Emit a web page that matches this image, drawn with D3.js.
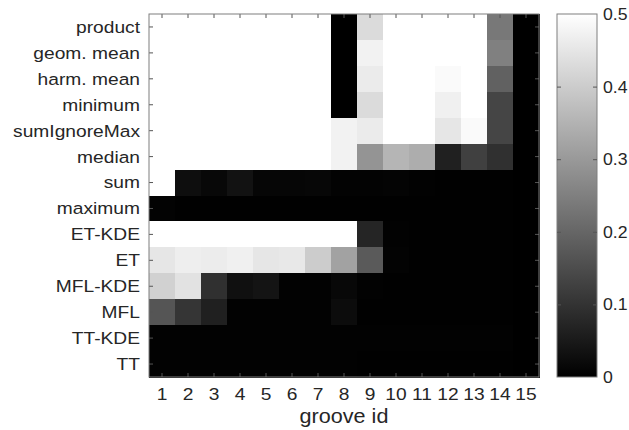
<!DOCTYPE html>
<html lang="en">
<head>
    <meta charset="UTF-8">
    <title>Groove heatmap</title>
    <script src="https://d3js.org/d3.v7.js"></script>
    <style>
        body{
            margin: 0;
            background-color: #fff;
            font-family: 'Liberation Sans', Arial, sans-serif;
        }
    </style>
</head>
<body>
    <div class="chart"></div>

    <script>

        // row labels, top to bottom
        var methods = ["product", "geom. mean", "harm. mean", "minimum", "sumIgnoreMax", "median",
                       "sum", "maximum", "ET-KDE", "ET", "MFL-KDE", "MFL", "TT-KDE", "TT"];

        var grooves = [1, 2, 3, 4, 5, 6, 7, 8, 9, 10, 11, 12, 13, 14, 15];

        // one row per method, one value per groove
        var scores = [
            [0.5, 0.5, 0.5, 0.5, 0.5, 0.5, 0.5, 0, 0.43, 0.5, 0.5, 0.5, 0.5, 0.235, 0],
            [0.5, 0.5, 0.5, 0.5, 0.5, 0.5, 0.5, 0, 0.475, 0.5, 0.5, 0.5, 0.5, 0.25, 0],
            [0.5, 0.5, 0.5, 0.5, 0.5, 0.5, 0.5, 0, 0.46, 0.5, 0.5, 0.49, 0.5, 0.19, 0],
            [0.5, 0.5, 0.5, 0.5, 0.5, 0.5, 0.5, 0, 0.43, 0.5, 0.5, 0.47, 0.5, 0.135, 0],
            [0.5, 0.5, 0.5, 0.5, 0.5, 0.5, 0.5, 0.475, 0.46, 0.5, 0.5, 0.45, 0.49, 0.135, 0],
            [0.5, 0.5, 0.5, 0.5, 0.5, 0.5, 0.5, 0.475, 0.29, 0.355, 0.34, 0.063, 0.125, 0.094, 0],
            [0.5, 0.027, 0.016, 0.035, 0.012, 0.012, 0.014, 0.006, 0.006, 0.008, 0.004, 0.002, 0.002, 0.002, 0],
            [0.006, 0.002, 0.002, 0.002, 0.002, 0.002, 0.002, 0.002, 0.002, 0.002, 0.002, 0.002, 0.002, 0.002, 0],
            [0.5, 0.5, 0.5, 0.5, 0.5, 0.5, 0.5, 0.5, 0.073, 0.004, 0.002, 0.002, 0.002, 0.002, 0],
            [0.45, 0.467, 0.463, 0.47, 0.45, 0.455, 0.4, 0.318, 0.176, 0.006, 0.002, 0.002, 0.002, 0.002, 0],
            [0.41, 0.443, 0.094, 0.031, 0.039, 0.003, 0.003, 0.016, 0.003, 0.002, 0.002, 0.002, 0.002, 0.002, 0],
            [0.167, 0.104, 0.063, 0.003, 0.004, 0.003, 0.003, 0.024, 0.002, 0.002, 0.002, 0.002, 0.002, 0.002, 0],
            [0.004, 0.004, 0.004, 0.004, 0.004, 0.004, 0.004, 0.004, 0.003, 0.003, 0.003, 0.003, 0.003, 0.003, 0],
            [0.003, 0.003, 0.003, 0.003, 0.003, 0.003, 0.003, 0.003, 0.002, 0.002, 0.002, 0.002, 0.002, 0.002, 0]
        ];

        var colorTicks = [0, 0.1, 0.2, 0.3, 0.4, 0.5];

        //setup dimensions
        var width = 629, height = 430;
        var plot = {left: 149, right: 539, top: 14, bottom: 377};
        var bar = {left: 557, right: 597};
        var boxColor = "#7f7f7f";
        var fontSize = 17;
        var stretch = 1.13;   // the original text is a bit wider than Arial

        var svg = d3.select(".chart")
            .append("svg")
            .attr("width", width)
            .attr("height", height)

        var xScale = d3.scaleBand()
            .domain(grooves)
            .range([plot.left, plot.right])

        var yScale = d3.scaleBand()
            .domain(methods)
            .range([plot.top, plot.bottom])

        var color = d3.scaleLinear()
            .domain([0, 0.5])
            .range(["#000000", "#ffffff"])
            .clamp(true)

        //cells
        var cells = []
        scores.forEach(function(row, i){
            row.forEach(function(v, j){
                cells.push({method: methods[i], groove: grooves[j], value: v})
            })
        })

        svg.append("g")
            .selectAll("rect")
            .data(cells)
            .join("rect")
                .attr("x", function(d){return xScale(d.groove)})
                .attr("y", function(d){return yScale(d.method)})
                .attr("width", xScale.bandwidth() + 0.5)
                .attr("height", yScale.bandwidth() + 0.5)
                .attr("fill", function(d){return color(d.value)})
                .attr("shape-rendering", "crispEdges")

        //inward ticks on all four sides, matlab style
        function styleAxis(g){
            g.select(".domain").remove()
            g.selectAll(".tick line").attr("stroke", "#555")
        }

        svg.append("g")
            .attr("transform", "translate(0," + plot.bottom + ")")
            .call(d3.axisTop(xScale).tickSize(4).tickFormat(""))
            .call(styleAxis)
        svg.append("g")
            .attr("transform", "translate(0," + plot.top + ")")
            .call(d3.axisBottom(xScale).tickSize(4).tickFormat(""))
            .call(styleAxis)
        svg.append("g")
            .attr("transform", "translate(" + plot.left + ",0)")
            .call(d3.axisRight(yScale).tickSize(4).tickFormat(""))
            .call(styleAxis)
        svg.append("g")
            .attr("transform", "translate(" + plot.right + ",0)")
            .call(d3.axisLeft(yScale).tickSize(4).tickFormat(""))
            .call(styleAxis)

        svg.append("rect")
            .attr("x", plot.left)
            .attr("y", plot.top)
            .attr("width", plot.right - plot.left)
            .attr("height", plot.bottom - plot.top)
            .attr("fill", "none")
            .attr("stroke", boxColor)
            .attr("stroke-width", 1)

        //tick labels
        svg.append("g")
            .selectAll("text")
            .data(grooves)
            .join("text")
                .attr("transform", function(d){
                    return "translate(" + (xScale(d) + xScale.bandwidth() / 2) + ",399.5) scale(" + stretch + ",1)"
                })
                .attr("text-anchor", "middle")
                .attr("font-size", fontSize)
                .attr("fill", "#262626")
                .text(function(d){return d})

        svg.append("g")
            .selectAll("text")
            .data(methods)
            .join("text")
                .attr("transform", function(d){
                    return "translate(140," + (yScale(d) + yScale.bandwidth() / 2) + ") scale(" + stretch + ",1)"
                })
                .attr("text-anchor", "end")
                .attr("dy", "0.35em")
                .attr("font-size", fontSize)
                .attr("fill", "#262626")
                .text(function(d){return d})

        svg.append("text")
            .attr("transform", "translate(" + ((plot.left + plot.right) / 2) + ",423) scale(1.08,1)")
            .attr("text-anchor", "middle")
            .attr("font-size", 20)
            .attr("fill", "#262626")
            .text("groove id")

        //colorbar
        var cScale = d3.scaleLinear()
            .domain([0, 0.5])
            .range([plot.bottom, plot.top])

        var grad = svg.append("defs")
            .append("linearGradient")
            .attr("id", "cbar")
            .attr("x1", 0).attr("x2", 0)
            .attr("y1", 1).attr("y2", 0)
        grad.selectAll("stop")
            .data(colorTicks)
            .join("stop")
                .attr("offset", function(d){return d / 0.5})
                .attr("stop-color", function(d){return color(d)})

        svg.append("rect")
            .attr("x", bar.left)
            .attr("y", plot.top)
            .attr("width", bar.right - bar.left)
            .attr("height", plot.bottom - plot.top)
            .attr("fill", "url(#cbar)")
            .attr("stroke", boxColor)
            .attr("stroke-width", 1)

        svg.append("g")
            .attr("transform", "translate(" + bar.left + ",0)")
            .call(d3.axisRight(cScale).tickValues(colorTicks.slice(1, 5)).tickSize(4).tickFormat(""))
            .call(styleAxis)
        svg.append("g")
            .attr("transform", "translate(" + bar.right + ",0)")
            .call(d3.axisLeft(cScale).tickValues(colorTicks.slice(1, 5)).tickSize(4).tickFormat(""))
            .call(styleAxis)

        svg.append("g")
            .selectAll("text")
            .data(colorTicks)
            .join("text")
                .attr("transform", function(d){
                    return "translate(603," + cScale(d) + ") scale(1.04,1)"
                })
                .attr("dy", "0.35em")
                .attr("font-size", fontSize)
                .attr("fill", "#262626")
                .text(function(d){return d3.format("")(d)})

    </script>

</body>
</html>
